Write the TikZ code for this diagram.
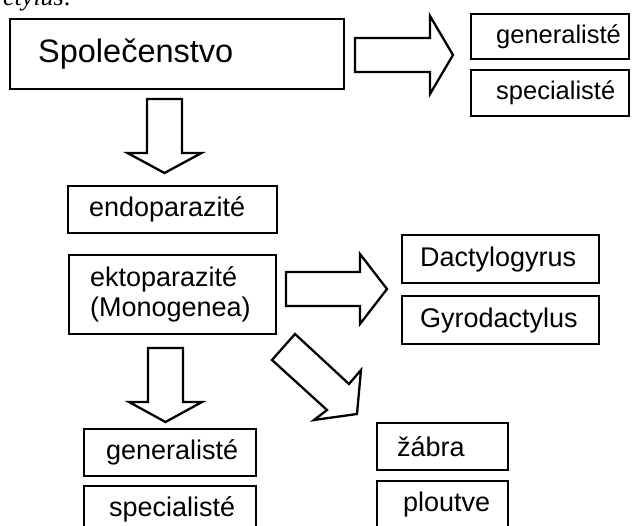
\documentclass[tikz,border=0pt]{standalone}
\usepackage{fontspec}
\setmainfont{Liberation Sans}
\newfontfamily\timesfont{Liberation Serif}
\hyphenpenalty=10000

\begin{document}
\begin{tikzpicture}[x=1pt,y=-1pt,
  box/.style={draw,line width=2.3pt,anchor=north west,align=left,inner ysep=0pt,
    font=\fontsize{27}{30}\selectfont},
  arrowline/.style={draw,line width=2.3pt,line join=miter},
  % length, half shaft, half head, head length
  pics/blockarrow/.style n args={4}{code={
    \draw[arrowline] (0,-#2) -- (#1-#4,-#2) -- (#1-#4,-#3) -- (#1,0)
      -- (#1-#4,#3) -- (#1-#4,#2) -- (0,#2) -- cycle;}}]

  \useasboundingbox (0,0) rectangle (633,526);
  \clip (0,0) rectangle (633,526);

  % caption line, cut off by the page top
  \node[anchor=base west,inner sep=0pt,font=\timesfont\itshape\fontsize{26}{30}\selectfont]
    (capt) at (3,6) {ctylus:};

  % --- community and its two kinds ---
  \node[box,text width=278pt,inner xsep=28pt,minimum height=70pt,
    font=\fontsize{32.5}{36}\selectfont] (soc) at (9,18) {Společenstvo};
  \node[box,text width=108pt,inner xsep=25pt,minimum height=45pt,
    font=\fontsize{25.5}{29}\selectfont] (genT) at (470,13) {generalisté};
  \node[box,text width=108pt,inner xsep=25pt,minimum height=46pt,
    font=\fontsize{25.5}{29}\selectfont] (specT) at (470,69) {specialisté};

  \pic (arrSoc) at (355,55) {blockarrow={98}{17}{39}{23}};
  \pic[rotate=-90] (arrParaz) at (164.5,99) {blockarrow={74}{17.5}{37}{20}};

  % --- parasites ---
  \node[box,text width=167pt,inner xsep=21pt,minimum height=47pt] (endo) at (67,185) {endoparazité};
  \node[box,text width=165pt,inner xsep=21pt,minimum height=79pt] (ekto) at (68,254)
    {ektoparazité\\(Monogenea)};

  \pic (arrRod) at (286,289) {blockarrow={101}{17}{35}{27}};
  \node[box,text width=161pt,inner xsep=18pt,minimum height=48pt] (dact) at (401,234) {Dactylogyrus};
  \node[box,text width=161pt,inner xsep=18pt,minimum height=48pt] (gyro) at (401,295) {Gyrodactylus};

  % --- host specificity and site ---
  \pic[rotate=-90] (arrSpec) at (165.5,348) {blockarrow={74}{17.5}{36.5}{20}};
  \draw[arrowline] (295,334) -- (349,384) -- (361,370) -- (357,414)
    -- (314,420) -- (327,410) -- (272,360) -- cycle;

  \node[box,text width=128pt,inner xsep=22pt,minimum height=47pt] (genB) at (83,428) {generalisté};
  \node[box,text width=122pt,inner xsep=25pt,minimum height=47pt] (specB) at (83,485) {specialisté};
  \node[box,text width=91pt,inner xsep=20pt,minimum height=47pt] (zabra) at (376,422) {žábra};
  \node[box,text width=79pt,inner xsep=26pt,minimum height=47pt] (plout) at (376,480) {ploutve};
\end{tikzpicture}
\end{document}
